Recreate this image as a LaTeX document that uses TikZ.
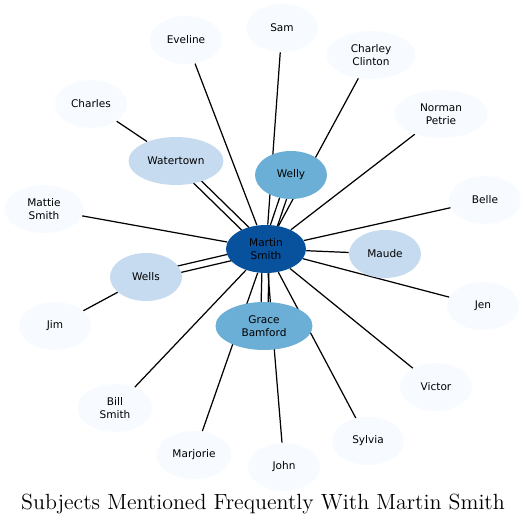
\documentclass[tikz,border=0pt]{standalone}
\usepackage{fontspec}
\newfontfamily\labelfont{DejaVu Sans}
\usetikzlibrary{shapes.geometric, calc, backgrounds}

\definecolor{rareblue}{HTML}{F7FBFF}
\definecolor{lightblue}{HTML}{C6DBEF}
\definecolor{midblue}{HTML}{6BAED6}
\definecolor{darkblue}{HTML}{08519C}

\begin{document}
\begin{tikzpicture}[
    x=0.02cm, y=-0.02cm,
    subject/.style={ellipse, draw=none, fill=rareblue, minimum width=1.44cm, minimum height=0.96cm, inner sep=0pt, align=center, font=\labelfont\fontsize{6}{7.2}\selectfont},
    oncebox/.style={subject, fill=lightblue},
    twicebox/.style={subject, fill=midblue},
    centrebox/.style={subject, fill=darkblue, minimum width=1.6cm},
    edge/.style={draw=black, line width=0.7pt},
    titlelabel/.style={font=\fontsize{12.5}{15}\selectfont},
]
\useasboundingbox (0,0) rectangle (527,527);

% Central subject
\node[centrebox] (ms) at (266,249) {Martin\\Smith};

% Subjects with more mentions
\node[oncebox, minimum width=1.9cm] (watertown) at (176,161) {Watertown};
\node[twicebox] (welly) at (291,175) {Welly};
\node[oncebox] (maude) at (385,254) {Maude};
\node[oncebox] (wells) at (146,277) {Wells};
\node[twicebox, minimum width=1.94cm] (grace) at (264,326) {Grace\\Bamford};

% Outer ring
\node[subject] (eveline) at (186,40) {Eveline};
\node[subject] (sam) at (282,28) {Sam};
\node[subject, minimum width=1.78cm] (charley) at (371,55) {Charley\\Clinton};
\node[subject, minimum width=1.86cm] (norman) at (441,114) {Norman\\Petrie};
\node[subject] (charles) at (91,104) {Charles};
\node[subject] (belle) at (485,200) {Belle};
\node[subject, minimum width=1.58cm] (mattie) at (44,209) {Mattie\\Smith};
\node[subject] (jen) at (483,306) {Jen};
\node[subject] (jim) at (55,326) {Jim};
\node[subject] (victor) at (436,387) {Victor};
\node[subject, minimum width=1.5cm] (bill) at (115,408) {Bill\\Smith};
\node[subject] (sylvia) at (368,441) {Sylvia};
\node[subject, minimum width=1.5cm] (marjorie) at (194,455) {Marjorie};
\node[subject] (john) at (284,467) {John};

% Connections
\begin{scope}[on background layer]
\foreach \other in {eveline, sam, charley, norman, belle, mattie, maude, jen, victor, bill, sylvia, marjorie, john}
    \draw[edge] (ms) -- (\other);
\foreach \other in {watertown, welly, wells, grace} {
    \draw[edge] ($(ms)!0.07cm!90:(\other)$) -- ($(\other)!0.07cm!-90:(ms)$);
    \draw[edge] ($(ms)!0.07cm!-90:(\other)$) -- ($(\other)!0.07cm!90:(ms)$);
}
\draw[edge] (charles) -- (watertown);
\draw[edge] (jim) -- (wells);
\end{scope}

% Title
\node[titlelabel] (title) at (263,504) {Subjects Mentioned Frequently With Martin Smith};

\end{tikzpicture}
\end{document}
